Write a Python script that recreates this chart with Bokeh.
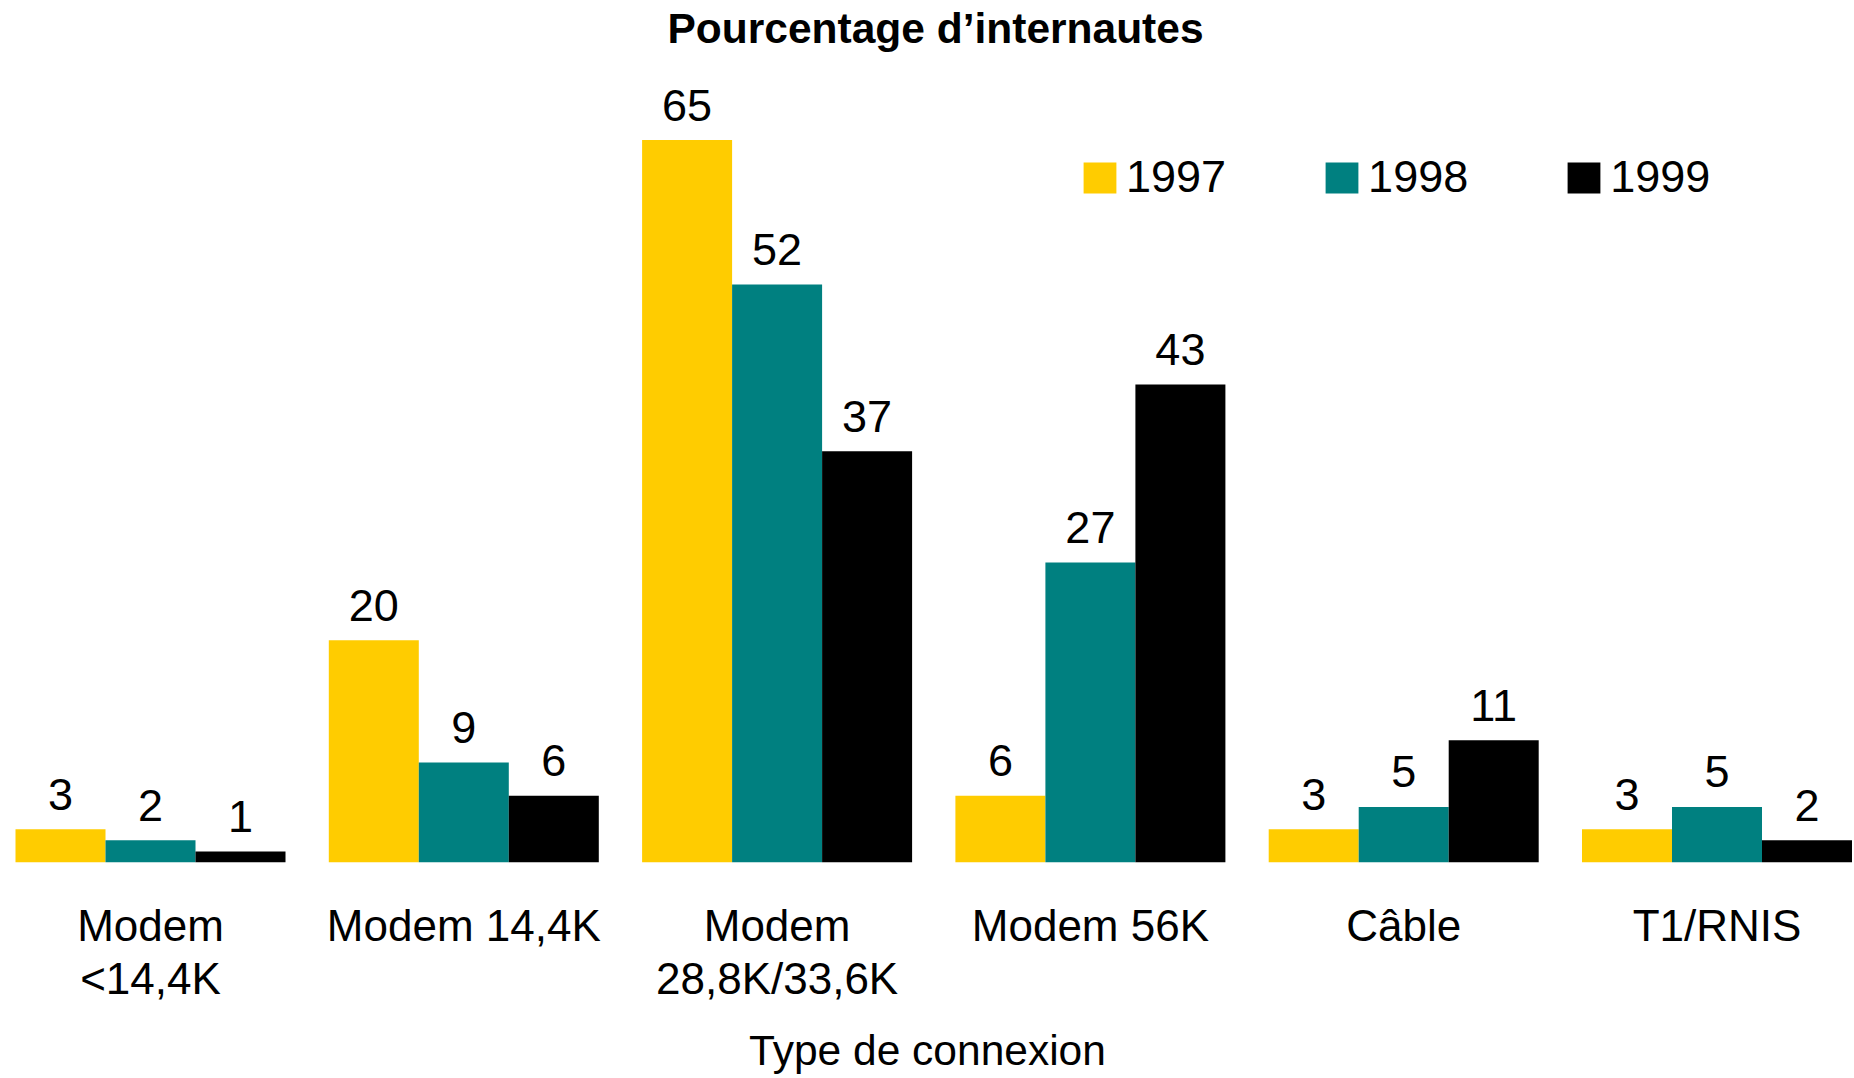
from bokeh.plotting import figure
from bokeh.models import (Range1d, FixedTicker, Legend, LegendItem, Label,
                          ColumnDataSource)
from bokeh.core.properties import value
from bokeh.embed import file_html
from bokeh.resources import INLINE
import numpy as np

# ---- data -------------------------------------------------------------
categories = ["Modem\n<14,4K", "Modem 14,4K", "Modem\n28,8K/33,6K",
              "Modem 56K", "Câble", "T1/RNIS"]
years = ["1997", "1998", "1999"]
v1997 = [3, 20, 65, 6, 3, 3]
v1998 = [2, 9, 52, 27, 5, 5]
v1999 = [1, 6, 37, 43, 11, 2]
colors = ["#FFCC00", "#008080", "#000000"]
title_text = "Pourcentage d\u2019internautes"
x_title = "Type de connexion"

FONT = "Liberation Sans"

# ---- layout -----------------------------------------------------------
W, H = 1854, 1078
px_per_group = 313.3
bar_w = 90 / px_per_group
frame_h = 862
px_per_unit = 11.115
x0 = -150 / px_per_group
x1 = x0 + W / px_per_group
y1 = frame_h / px_per_unit

p = figure(width=W, height=H, output_backend="svg", toolbar_location=None,
           x_range=Range1d(x0, x1), y_range=Range1d(0, y1),
           y_axis_location=None, min_border=0, min_border_bottom=H - frame_h)
p.outline_line_color = None
p.xgrid.visible = False
p.ygrid.visible = False
p.background_fill_color = "white"
p.border_fill_color = "white"

idx = np.arange(len(categories))
series = [v1997, v1998, v1999]
renderers = []
for j, (vals, col) in enumerate(zip(series, colors)):
    src = ColumnDataSource(dict(x=idx + (j - 1) * bar_w, top=vals,
                                lab=[str(v) for v in vals]))
    r = p.vbar(x="x", top="top", bottom=0, width=bar_w, source=src,
               fill_color=col, line_color=None)
    renderers.append(r)
    p.text(x="x", y="top", text="lab", source=src, text_align="center",
           text_baseline="alphabetic", y_offset=-35,
           text_font=value(FONT), text_font_size="45px", text_color="black")

# x axis
ax = p.xaxis[0]
ax.ticker = FixedTicker(ticks=list(range(len(categories))))
ax.major_label_overrides = {int(i): c for i, c in enumerate(categories)}
ax.axis_line_color = None
ax.major_tick_line_color = None
ax.minor_tick_line_color = None
ax.major_tick_out = 0
ax.major_tick_in = 0
ax.major_label_text_font = FONT
ax.major_label_text_font_size = "44px"
ax.major_label_text_line_height = 1.095
ax.major_label_text_color = "black"
ax.major_label_standoff = 38
ax.axis_label = x_title
ax.axis_label_text_font = FONT
ax.axis_label_text_font_size = "42.5px"
ax.axis_label_text_font_style = "normal"
ax.axis_label_text_color = "black"
ax.axis_label_standoff = 21

# title
p.add_layout(Label(x=x0 + 935 / px_per_group, y=(frame_h - 28.2) / px_per_unit,
                   text=title_text, text_align="center",
                   text_baseline="alphabetic", text_font=FONT,
                   text_font_size="42.5px", text_font_style="bold",
                   text_color="black"))

# legend
legend = Legend(items=[LegendItem(label=y, renderers=[r])
                       for y, r in zip(years, renderers)],
                orientation="horizontal", location=(1079, 659),
                glyph_width=41, glyph_height=39, label_standoff=6,
                spacing=95, padding=0, margin=0,
                border_line_color=None, background_fill_alpha=0,
                label_text_font=FONT, label_text_font_size="45px",
                label_text_color="black")
p.add_layout(legend, "center")

open("out.html", "w").write(file_html(p, INLINE))
